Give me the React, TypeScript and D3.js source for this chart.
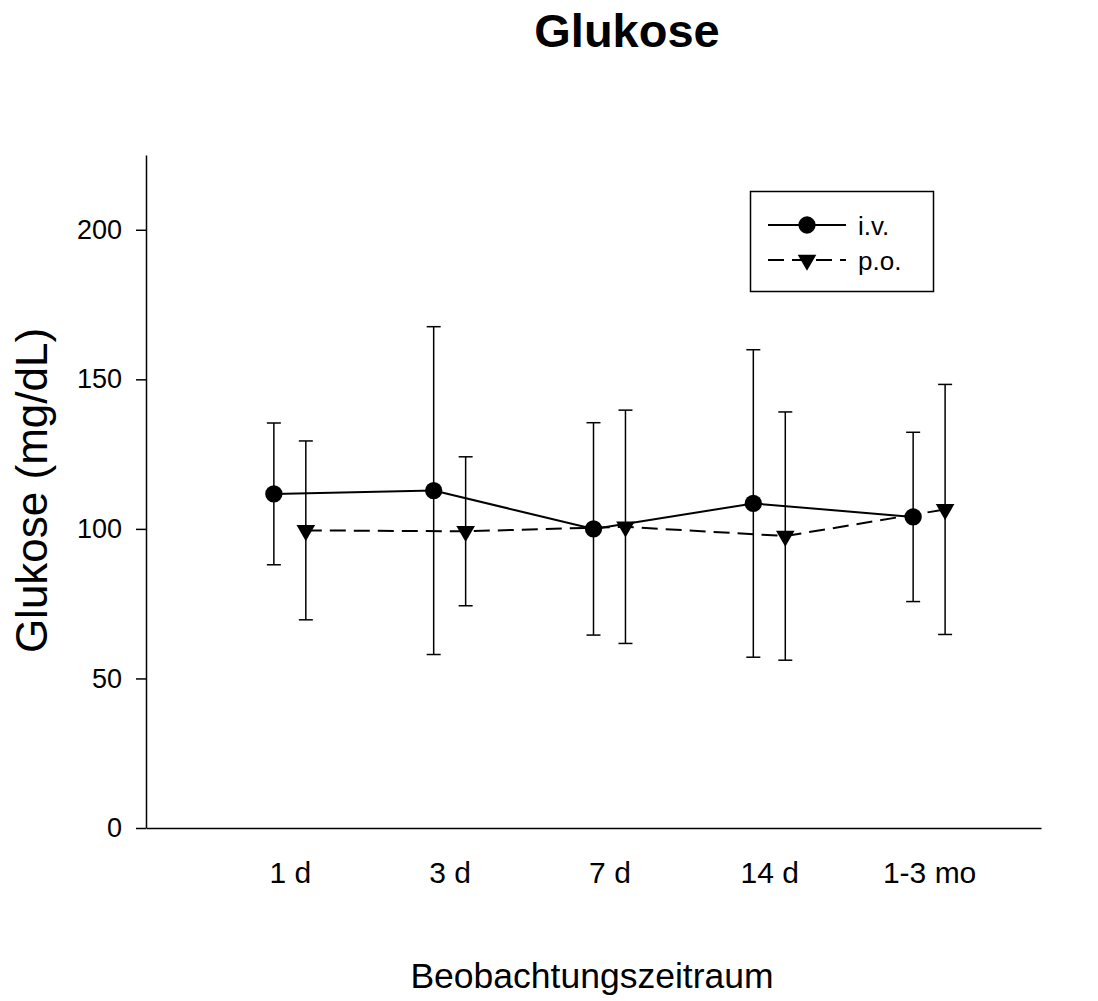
import React, { useEffect, useRef } from "react";
import * as d3 from "d3";

const categories = ["1 d", "3 d", "7 d", "14 d", "1-3 mo"];
const ivMean = [111.7, 112.8, 100.0, 108.5, 104.0];
const ivSd = [23.7, 54.8, 35.5, 51.4, 28.3];
const poMean = [99.5, 99.2, 100.7, 97.6, 106.5];
const poSd = [29.9, 24.9, 39.0, 41.5, 41.8];
const yTicks = [0, 50, 100, 150, 200];

const FONT = "'Liberation Sans', Arial, Helvetica, sans-serif";

function App() {
  const ref = useRef<SVGSVGElement | null>(null);

  useEffect(() => {
    const svg = d3.select(ref.current);
    svg.selectAll("*").remove();

    const width = 1098;
    const height = 1001;
    const left = 146;
    const right = 1041;
    const top = 155;
    const bottom = 828;

    svg.attr("width", width).attr("height", height);

    // categories sit at 1..5, the axis runs a bit past them on both sides
    const x = d3.scaleLinear().domain([0.1, 5.7]).range([left, right]);
    const y = d3.scaleLinear().domain([0, 225]).range([bottom, top]);
    const offset = 0.1;

    const series = [
      { name: "i.v.", mean: ivMean, sd: ivSd, dx: -offset, dash: null, circle: true },
      { name: "p.o.", mean: poMean, sd: poSd, dx: offset, dash: "16,8", circle: false },
    ];

    const marker = (circle: boolean) =>
      circle ? d3.symbol(d3.symbolCircle, 235) : d3.symbol(d3.symbolTriangle, 150);

    svg
      .append("text")
      .attr("x", 627)
      .attr("y", 47)
      .attr("text-anchor", "middle")
      .style("font-family", FONT)
      .style("font-weight", "bold")
      .style("font-size", "47px")
      .text("Glukose");

    // y axis
    const yAxis = svg
      .append("g")
      .attr("transform", `translate(${left},0)`)
      .call(
        d3
          .axisLeft(y)
          .tickValues(yTicks)
          .tickSize(10)
          .tickSizeOuter(0)
          .tickPadding(14)
      );
    yAxis.select(".domain").attr("stroke-width", 1.5);
    yAxis.selectAll(".tick line").attr("stroke-width", 1.5);
    yAxis.selectAll("text").style("font-family", FONT).style("font-size", "27px");

    // x axis (no ticks)
    const xAxis = svg
      .append("g")
      .attr("transform", `translate(0,${bottom})`)
      .call(
        d3
          .axisBottom(x)
          .tickValues(categories.map((_, i) => i + 1))
          .tickFormat((d, i) => categories[i])
          .tickSize(0)
          .tickPadding(34)
      );
    xAxis.select(".domain").attr("stroke-width", 1.5);
    xAxis.selectAll("text").style("font-family", FONT).style("font-size", "30px");

    svg
      .append("text")
      .attr("transform", `translate(47,${(top + bottom) / 2 - 1}) rotate(-90)`)
      .attr("text-anchor", "middle")
      .style("font-family", FONT)
      .style("font-size", "44px")
      .text("Glukose (mg/dL)");

    svg
      .append("text")
      .attr("x", 592)
      .attr("y", 988)
      .attr("text-anchor", "middle")
      .style("font-family", FONT)
      .style("font-size", "35.5px")
      .text("Beobachtungszeitraum");

    const plot = svg.append("g");

    series.forEach((s) => {
      const pts = s.mean.map((m, i) => ({ x: i + 1 + s.dx, m, sd: s.sd[i] }));

      const bars = plot.append("g").attr("stroke", "black").attr("stroke-width", 1.5);
      pts.forEach((p) => {
        const cx = x(p.x);
        bars.append("line").attr("x1", cx).attr("x2", cx).attr("y1", y(p.m - p.sd)).attr("y2", y(p.m + p.sd));
        [p.m - p.sd, p.m + p.sd].forEach((v) => {
          bars.append("line").attr("x1", cx - 7).attr("x2", cx + 7).attr("y1", y(v)).attr("y2", y(v));
        });
      });

      plot
        .append("path")
        .datum(pts)
        .attr("fill", "none")
        .attr("stroke", "black")
        .attr("stroke-width", 2)
        .attr("stroke-dasharray", s.dash)
        .attr(
          "d",
          d3
            .line<{ x: number; m: number }>()
            .x((d) => x(d.x))
            .y((d) => y(d.m))
        );
    });

    series.forEach((s) => {
      const rot = s.circle ? "" : " rotate(180)";
      plot
        .selectAll(null)
        .data(s.mean)
        .enter()
        .append("path")
        .attr("d", marker(s.circle))
        .attr("transform", (m, i) => `translate(${x(i + 1 + s.dx)},${y(m)})${rot}`)
        .attr("fill", "black");
    });

    // legend
    const lg = svg.append("g");
    lg.append("rect")
      .attr("x", 750.5)
      .attr("y", 191.5)
      .attr("width", 183)
      .attr("height", 100)
      .attr("fill", "white")
      .attr("stroke", "black")
      .attr("stroke-width", 1.5);

    series.forEach((s, i) => {
      const ly = 225 + i * 35;
      lg.append("line")
        .attr("x1", 768)
        .attr("x2", 846)
        .attr("y1", ly)
        .attr("y2", ly)
        .attr("stroke", "black")
        .attr("stroke-width", 2)
        .attr("stroke-dasharray", s.dash);
      lg.append("path")
        .attr("d", marker(s.circle))
        .attr("transform", `translate(807,${ly})${s.circle ? "" : " rotate(180)"}`)
        .attr("fill", "black");
      lg.append("text")
        .attr("x", 858)
        .attr("y", ly + 10)
        .style("font-family", FONT)
        .style("font-size", "26px")
        .text(s.name);
    });
  }, []);

  return <svg ref={ref} style={{ position: "absolute", left: 0, top: 0, background: "white" }} />;
}

export default App;
